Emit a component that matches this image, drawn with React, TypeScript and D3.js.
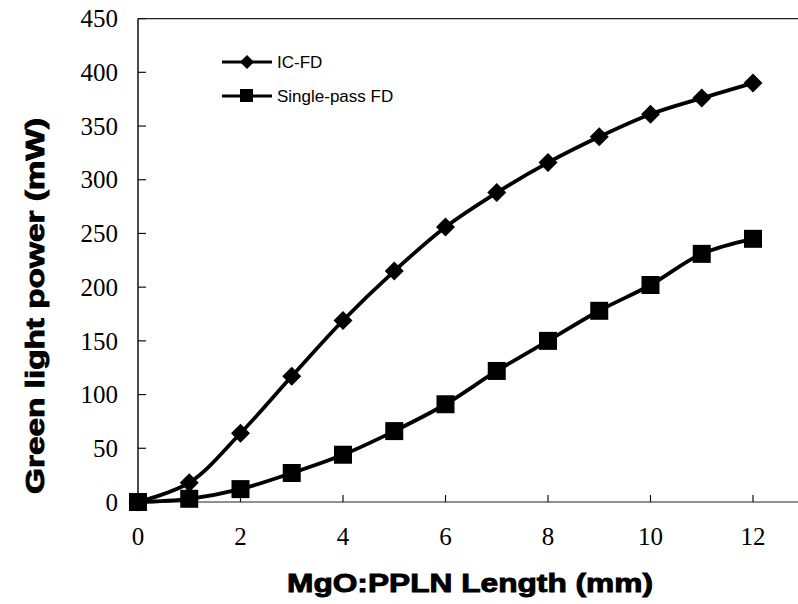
import React from "react";
import * as d3 from "d3";

const lengths = [0, 1, 2, 3, 4, 5, 6, 7, 8, 9, 10, 11, 12];
const icFD = [0, 18, 64, 117, 169, 215, 256, 288, 316, 340, 361, 376, 390];
const singlePass = [0, 3, 12, 27, 44, 66, 91, 122, 150, 178, 202, 231, 245];
const xTicks = [0, 2, 4, 6, 8, 10, 12];
const yTicks = [0, 50, 100, 150, 200, 250, 300, 350, 400, 450];

export default function App() {
  const W = 798, H = 604;
  const x = d3.scaleLinear().domain([0, 12]).range([138, 753]);
  const y = d3.scaleLinear().domain([0, 450]).range([502, 18.6]);
  const line = d3
    .line<number>()
    .x((_, i) => x(lengths[i]))
    .y((d) => y(d))
    .curve(d3.curveCatmullRom.alpha(0.5));
  const serif = "'Times New Roman', Times, 'Liberation Serif', serif";
  const sans = "Liberation Sans, Arial, sans-serif";
  const diamond = (cx: number, cy: number, r = 8) =>
    `M${cx},${cy - r}L${cx + r},${cy}L${cx},${cy + r}L${cx - r},${cy}Z`;
  return (
    <svg width={W} height={H} style={{ position: "absolute", left: 0, top: 0 }}>
      <rect width={W} height={H} fill="#fff" />
      {/* frame */}
      <line x1={138} x2={798} y1={y(450)} y2={y(450)} stroke="#222" strokeWidth={1.2} />
      <line x1={138} x2={138} y1={y(450)} y2={502} stroke="#111" strokeWidth={1.5} />
      <line x1={138} x2={798} y1={502} y2={502} stroke="#222" strokeWidth={1.2} />
      {yTicks.map((t) => (
        <g key={"y" + t}>
          <line x1={138} x2={146} y1={y(t)} y2={y(t)} stroke="#111" strokeWidth={1.2} />
          <text x={118} y={y(t)} dy="0.35em" textAnchor="end" style={{ fontFamily: serif }} fontSize={25} fill="#000">
            {t}
          </text>
        </g>
      ))}
      {xTicks.map((t) => (
        <g key={"x" + t}>
          <line x1={x(t)} x2={x(t)} y1={502} y2={495} stroke="#111" strokeWidth={1.2} />
          <text x={x(t)} y={545} textAnchor="middle" style={{ fontFamily: serif }} fontSize={25} fill="#000">
            {t}
          </text>
        </g>
      ))}
      {/* series */}
      <path d={line(icFD) || ""} fill="none" stroke="#000" strokeWidth={3.8} />
      <path d={line(singlePass) || ""} fill="none" stroke="#000" strokeWidth={3.8} />
      {icFD.map((v, i) => (
        <path key={"d" + i} d={diamond(x(lengths[i]), y(v), 9.5)} fill="#000" />
      ))}
      {singlePass.map((v, i) => (
        <rect key={"s" + i} x={x(lengths[i]) - 9} y={y(v) - 9} width={18} height={18} fill="#000" />
      ))}
      {/* legend */}
      <line x1={222} x2={272} y1={62} y2={62} stroke="#000" strokeWidth={2.8} />
      <path d={diamond(247, 62, 7)} fill="#000" />
      <text x={277} y={62} dy="0.35em" fontFamily={sans} fontSize={17} fill="#000">IC-FD</text>
      <line x1={222} x2={272} y1={96} y2={96} stroke="#000" strokeWidth={2.8} />
      <rect x={240} y={89} width={13} height={13} fill="#000" />
      <text x={277} y={96} dy="0.35em" fontFamily={sans} fontSize={17} fill="#000">Single-pass FD</text>
      {/* axis titles */}
      <text
        x={470}
        y={592}
        textAnchor="middle"
        fontFamily={sans}
        fontWeight="bold"
        fontSize={25}
        fill="#000"
        stroke="#000"
        strokeWidth={0.9}
        textLength={366}
        lengthAdjust="spacingAndGlyphs"
      >
        MgO:PPLN Length (mm)
      </text>
      <text
        transform={`translate(44,${306}) rotate(-90)`}
        textAnchor="middle"
        fontFamily={sans}
        fontWeight="bold"
        fontSize={25}
        fill="#000"
        stroke="#000"
        strokeWidth={0.9}
        textLength={376}
        lengthAdjust="spacingAndGlyphs"
      >
        Green light power (mW)
      </text>
    </svg>
  );
}
